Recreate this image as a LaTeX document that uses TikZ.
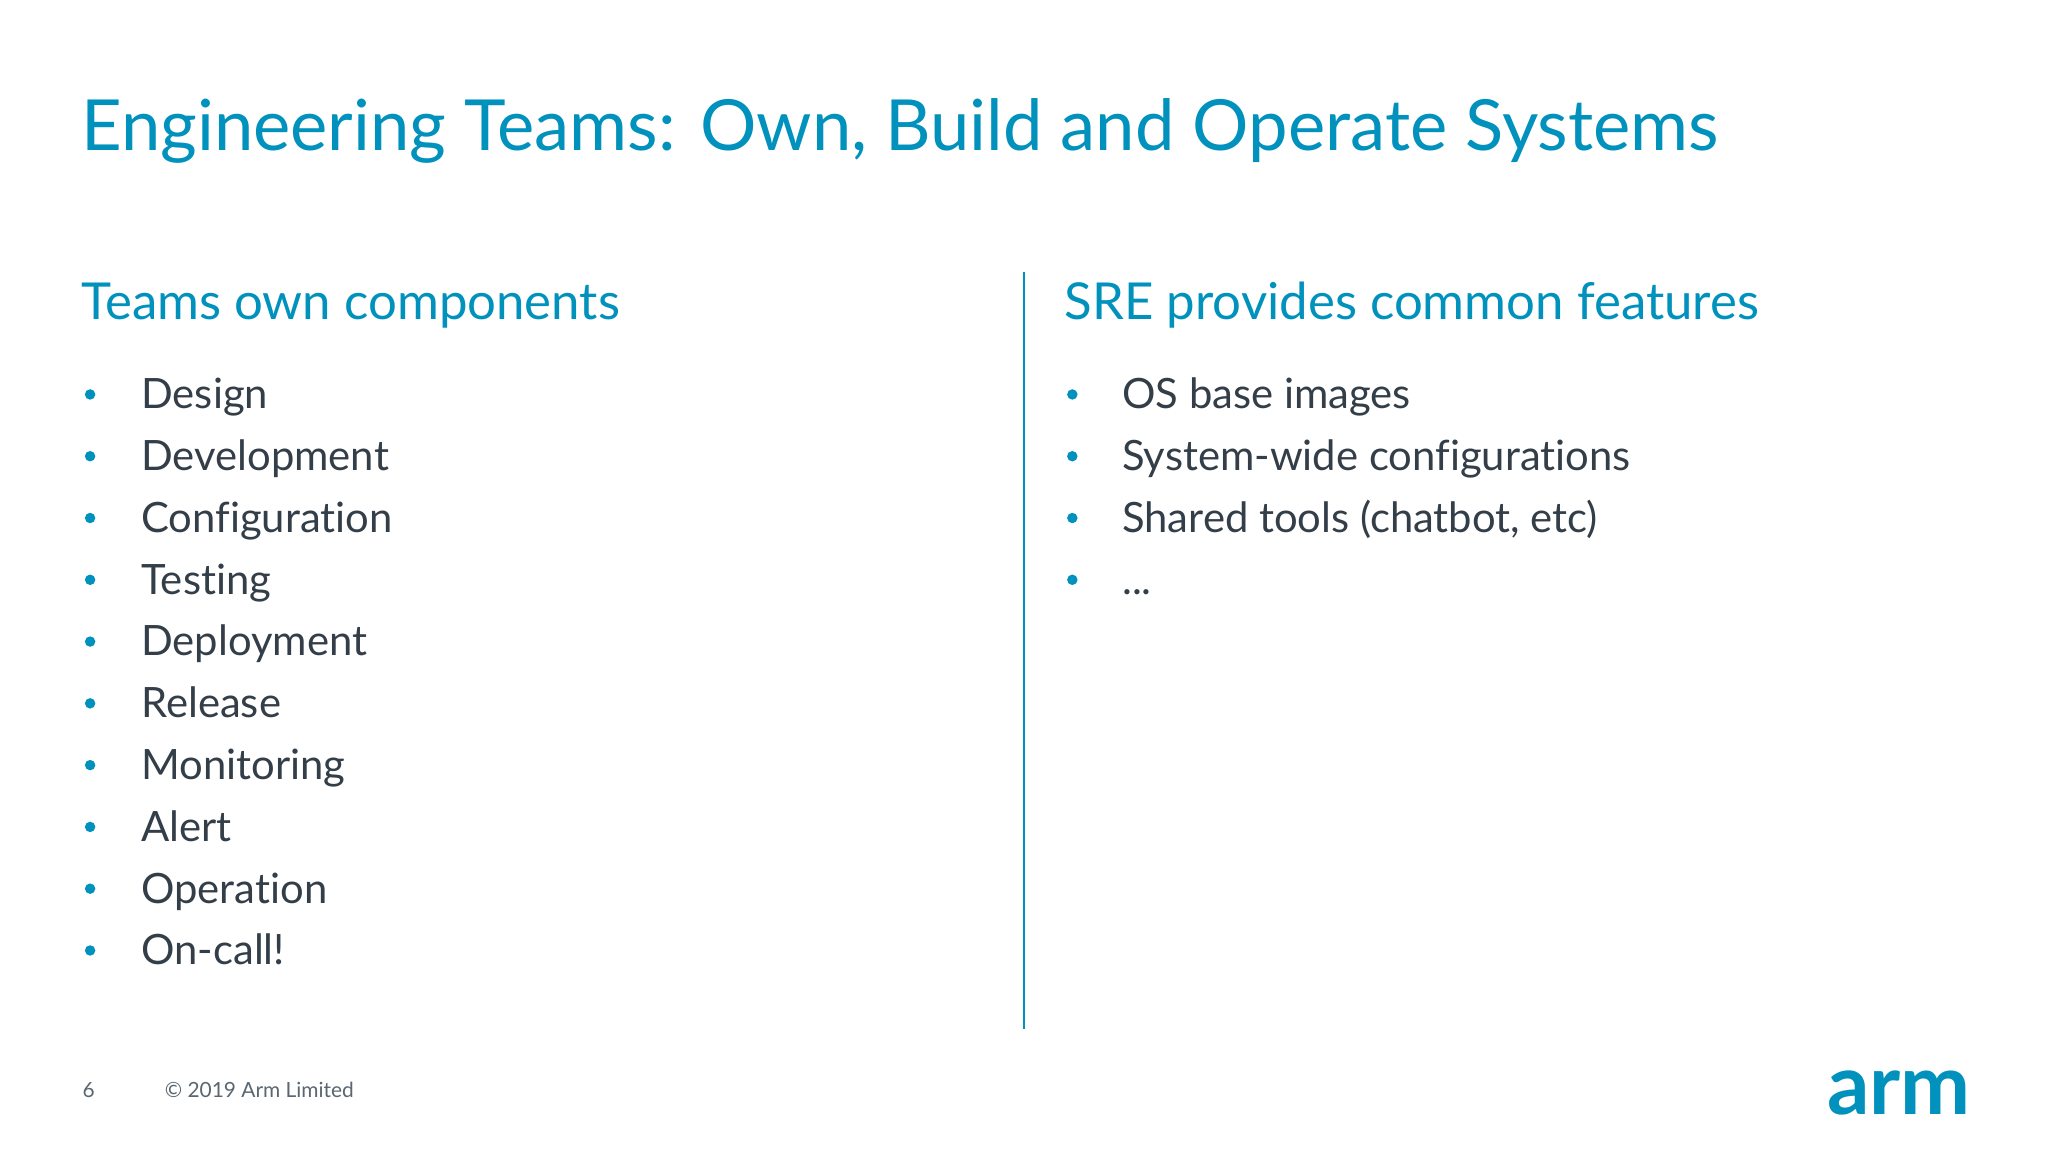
\documentclass[tikz,border=0pt]{standalone}
\usepackage{fontspec}
\setmainfont{Lato}[Ligatures=CommonOff]
\definecolor{armblue}{HTML}{0091BD}
\definecolor{bodygray}{HTML}{333E48}
\definecolor{footgray}{HTML}{5A6670}
\tikzset{
  title/.style={anchor=base west,inner sep=0,text=armblue,font=\fontsize{54}{60}\selectfont},
  head/.style={anchor=base west,inner sep=0,text=armblue,font=\fontsize{39}{42}\selectfont},
  item/.style={anchor=base west,inner sep=0,text=bodygray,font=\fontsize{32}{36}\selectfont},
  dot/.style={circle,fill=armblue,inner sep=0,minimum size=8},
  foot/.style={anchor=base west,inner sep=0,text=footgray,font=\fontsize{16}{18}\selectfont},
}
\begin{document}
\begin{tikzpicture}[x=1pt,y=-1pt]
\useasboundingbox (0,0) rectangle (1568,882);
\node[title] (t) at (62,115) {Engineering Teams: Own, Build and Operate Systems};
\node[head] (h1) at (62,245) {Teams own components};
\node[head] (h2) at (815,245) {SRE provides common features};
\node[dot] (l1) at (69,302) {}; \node[item] (li1) at (108,313) {Design};
\node[dot] (l2) at (69,349.3) {}; \node[item] (li2) at (108,360.3) {Development};
\node[dot] (l3) at (69,396.6) {}; \node[item] (li3) at (108,407.6) {Configuration};
\node[dot] (l4) at (69,443.9) {}; \node[item] (li4) at (108,454.9) {Testing};
\node[dot] (l5) at (69,491.2) {}; \node[item] (li5) at (108,502.2) {Deployment};
\node[dot] (l6) at (69,538.5) {}; \node[item] (li6) at (108,549.5) {Release};
\node[dot] (l7) at (69,585.8) {}; \node[item] (li7) at (108,596.8) {Monitoring};
\node[dot] (l8) at (69,633.1) {}; \node[item] (li8) at (108,644.1) {Alert};
\node[dot] (l9) at (69,680.4) {}; \node[item] (li9) at (108,691.4) {Operation};
\node[dot] (l10) at (69,727.7) {}; \node[item] (li10) at (108,738.7) {On-call!};
\node[dot] (r1) at (821,302) {}; \node[item] (ri1) at (859,313) {OS base images};
\node[dot] (r2) at (821,349.3) {}; \node[item] (ri2) at (859,360.3) {System-wide configurations};
\node[dot] (r3) at (821,396.6) {}; \node[item] (ri3) at (859,407.6) {Shared tools (chatbot, etc)};
\node[dot] (r4) at (821,443.9) {}; \node[item] (ri4) at (859,454.9) {...};
\coordinate (d1) at (784,208);
\coordinate (d2) at (784,788);
\draw[armblue,line width=2] (d1) -- (d2);
\node[foot] (pg) at (63,840) {6};
\node[foot] (cp) at (126,840) {\char"00A9\ 2019 Arm Limited};
\node[anchor=base east,inner sep=0,text=armblue,font=\bfseries\fontsize{64}{64}\selectfont] (logo) at (1509,853) {arm};
\end{tikzpicture}
\end{document}
